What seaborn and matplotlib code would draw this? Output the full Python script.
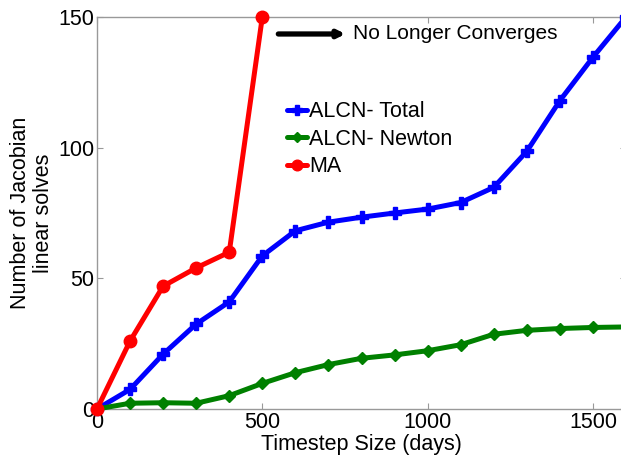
import matplotlib
matplotlib.use("Agg")
import matplotlib.pyplot as plt
import seaborn as sns
import pandas as pd

# Timestep sizes (days) and solver counts
timesteps = [0, 100, 200, 300, 400, 500, 600, 700, 800, 900, 1000,
             1100, 1200, 1300, 1400, 1500, 1600]
alcn_total = [0, 7.5, 21, 32.5, 41, 58.6, 68.2, 71.5, 73.4, 75, 76.5,
              79, 84.8, 98.6, 118, 134.6, 150]
alcn_newton = [0, 2.2, 2.4, 2.2, 5.1, 9.8, 13.9, 17, 19.4, 20.7, 22.3,
               24.6, 28.6, 30.1, 30.8, 31.2, 31.4]
ma_steps = [0, 100, 200, 300, 400, 500]
ma_solves = [0, 26, 47, 54, 60, 150]

series_names = ["ALCN- Total", "ALCN- Newton", "MA"]
series_colors = ["#0000ff", "#008000", "#ff0000"]
series_markers = ["P", "D", "o"]
marker_sizes = [9, 6, 9]

frames = [
    pd.DataFrame({"x": timesteps, "y": alcn_total, "series": series_names[0]}),
    pd.DataFrame({"x": timesteps, "y": alcn_newton, "series": series_names[1]}),
    pd.DataFrame({"x": ma_steps, "y": ma_solves, "series": series_names[2]}),
]

sns.set_theme(style="white")
plt.rcParams["font.family"] = ["Liberation Sans", "DejaVu Sans"]
plt.rcParams["text.color"] = "black"
plt.rcParams["axes.labelcolor"] = "black"

FS = 15.5

fig = plt.figure(figsize=(6.21, 4.61), dpi=100)
ax = fig.add_axes([97 / 621, 52 / 461, 529 / 621, 392 / 461])

for df, name, col, mk, ms in zip(frames, series_names, series_colors,
                                  series_markers, marker_sizes):
    sns.lineplot(data=df, x="x", y="y", ax=ax, color=col, linewidth=3.6,
                 marker=mk, markersize=ms, markeredgecolor=col,
                 markeredgewidth=1, label=name, clip_on=False, zorder=3)

ax.set_xlim(0, 1600)
ax.set_ylim(0, 150)
ax.set_xticks([0, 500, 1000, 1500])
ax.set_yticks([0, 50, 100, 150])
ax.tick_params(axis="both", which="both", direction="in", length=4,
               color="#999999", labelcolor="black", labelsize=FS, pad=2,
               top=True, right=True, bottom=True, left=True, width=0.8)
for s in ax.spines.values():
    s.set_color("#999999")
    s.set_linewidth(1.0)

ax.set_xlabel("Timestep Size (days)", fontsize=FS, labelpad=1)
ax.set_ylabel("Number of Jacobian\nlinear solves", fontsize=FS,
              labelpad=3, linespacing=1.15)

leg = ax.legend(loc="center left", bbox_to_anchor=(0.342, 0.688),
                frameon=False, fontsize=FS, handlelength=0.95,
                handletextpad=0.1, labelspacing=0.3, borderaxespad=0,
                markerscale=0.85)

# Divergence annotation for MA beyond 500 days
ax.annotate("", xy=(760, 143.5), xytext=(540, 143.5),
            arrowprops=dict(arrowstyle="-|>", color="black", lw=3.8,
                            mutation_scale=10))
ax.text(775, 143.5, "No Longer Converges", fontsize=15, va="center",
        ha="left", color="black")

fig.savefig("out.png", dpi=100)
